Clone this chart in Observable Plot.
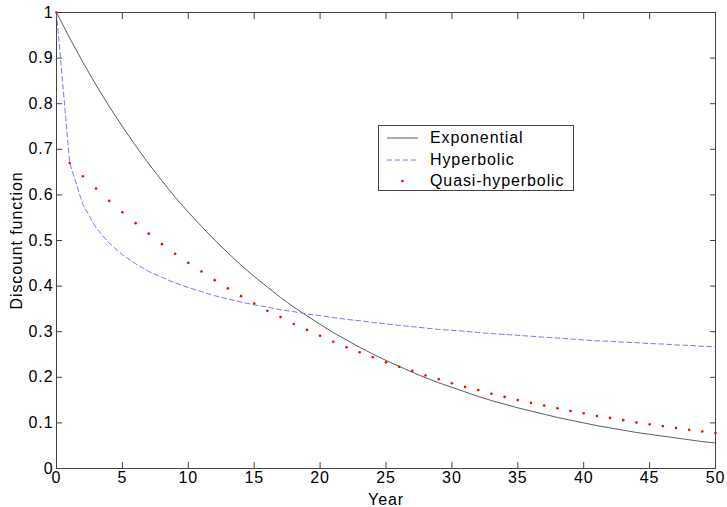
<!DOCTYPE html>
<html>
<head>
<meta charset="utf-8">
<script src="https://cdn.jsdelivr.net/npm/d3@7"></script>
<script src="https://cdn.jsdelivr.net/npm/@observablehq/plot@0.6"></script>
<style>
  html, body { margin: 0; padding: 0; background: #fff; }
  #wrap { position: relative; width: 727px; height: 507px; font-family: "Liberation Sans", Helvetica, Arial, sans-serif; }
  #legend { position: absolute; left: 378px; top: 125px; width: 196px; height: 66px; border: 1px solid #444; background: #fff; box-sizing: border-box; font-size: 16px; letter-spacing: 0.9px; color: #000; }
  .row { position: absolute; left: 0; height: 20px; line-height: 20px; }
  .row svg { position: absolute; left: 8px; top: 0; }
  .row span { position: absolute; left: 51px; white-space: nowrap; }
</style>
</head>
<body>
<div id="wrap"></div>
<script>
const years = d3.range(0, 51);
const exponential = [1,0.944,0.891,0.841,0.794,0.750,0.708,0.668,0.631,0.595,0.562,0.531,0.501,0.473,0.446,0.421,0.398,0.375,0.354,0.335,0.316,0.298,0.282,0.266,0.251,0.237,0.224,0.211,0.199,0.188,0.178,0.168,0.158,0.149,0.141,0.133,0.126,0.119,0.112,0.106,0.100,0.094,0.089,0.084,0.079,0.075,0.071,0.067,0.063,0.059,0.056];
const hyperbolic = [1,0.670,0.579,0.528,0.494,0.469,0.449,0.432,0.419,0.407,0.397,0.388,0.379,0.372,0.365,0.359,0.354,0.348,0.344,0.339,0.335,0.331,0.327,0.324,0.320,0.317,0.314,0.311,0.308,0.305,0.303,0.301,0.298,0.296,0.294,0.292,0.290,0.288,0.286,0.284,0.282,0.280,0.279,0.277,0.276,0.274,0.273,0.271,0.270,0.268,0.267];
const quasiHyperbolic = [1,0.670,0.641,0.614,0.587,0.562,0.538,0.515,0.492,0.471,0.451,0.432,0.413,0.395,0.378,0.362,0.346,0.332,0.317,0.304,0.291,0.278,0.266,0.255,0.244,0.233,0.223,0.214,0.204,0.196,0.187,0.179,0.172,0.164,0.157,0.150,0.144,0.138,0.132,0.126,0.121,0.115,0.111,0.106,0.101,0.097,0.093,0.089,0.085,0.081,0.078];
const xTicks = [0,5,10,15,20,25,30,35,40,45,50];
const yTicks = [0,0.1,0.2,0.3,0.4,0.5,0.6,0.7,0.8,0.9,1];
const seriesNames = ["Exponential", "Hyperbolic", "Quasi-hyperbolic"];

const expData = years.map((t, i) => ({t, v: exponential[i]}));
const hypData = years.map((t, i) => ({t, v: hyperbolic[i]}));
const qhData = years.map((t, i) => ({t, v: quasiHyperbolic[i]}));
const axisColor = "#444";

const chart = Plot.plot({
  width: 727,
  height: 507,
  marginLeft: 56,
  marginRight: 12,
  marginTop: 12,
  marginBottom: 39,
  style: {fontFamily: "'Liberation Sans', Helvetica, Arial, sans-serif", fontSize: "16px", letterSpacing: "0.9px", color: "#000", background: "#fff"},
  x: {domain: [0, 50]},
  y: {domain: [0, 1]},
  marks: [
    Plot.frame({stroke: axisColor}),
    Plot.axisX({anchor: "bottom", ticks: xTicks, tickSize: -6, tickPadding: 9, stroke: axisColor, fill: "#000", tickFormat: d => String(d), label: "Year", labelAnchor: "center", labelOffset: 36, labelArrow: "none"}),
    Plot.axisX({anchor: "top", ticks: xTicks, tickSize: -6, stroke: axisColor, tickFormat: () => "", label: null}),
    Plot.axisY({anchor: "left", ticks: yTicks, tickSize: -6, tickPadding: 9, stroke: axisColor, fill: "#000", tickFormat: d => String(d), label: "Discount function", labelAnchor: "center", labelOffset: 46, labelArrow: "none"}),
    Plot.axisY({anchor: "right", ticks: yTicks, tickSize: -6, stroke: axisColor, tickFormat: () => "", label: null}),
    Plot.line(expData, {x: "t", y: "v", stroke: "#333", strokeWidth: 0.8}),
    Plot.line(hypData, {x: "t", y: "v", stroke: "#6a6aff", strokeWidth: 0.9, strokeDasharray: "5,3"}),
    Plot.dot(qhData, {x: "t", y: "v", r: 1.3, fill: "#ff0000", stroke: "none"})
  ]
});

const wrap = document.getElementById("wrap");
wrap.appendChild(chart);

const legend = document.createElement("div");
legend.id = "legend";
const samples = [
  `<svg width="34" height="20"><line x1="0" y1="10" x2="31" y2="10" stroke="#333" stroke-width="0.8"/></svg>`,
  `<svg width="34" height="20"><line x1="0" y1="10" x2="31" y2="10" stroke="#6a6aff" stroke-width="0.9" stroke-dasharray="5,3"/></svg>`,
  `<svg width="34" height="20"><circle cx="15.5" cy="10" r="1.3" fill="#ff0000"/></svg>`
];
seriesNames.forEach((name, i) => {
  const row = document.createElement("div");
  row.className = "row";
  row.style.top = (2 + i * 21.5) + "px";
  row.innerHTML = samples[i] + `<span>${name}</span>`;
  legend.appendChild(row);
});
wrap.appendChild(legend);
</script>
</body>
</html>
